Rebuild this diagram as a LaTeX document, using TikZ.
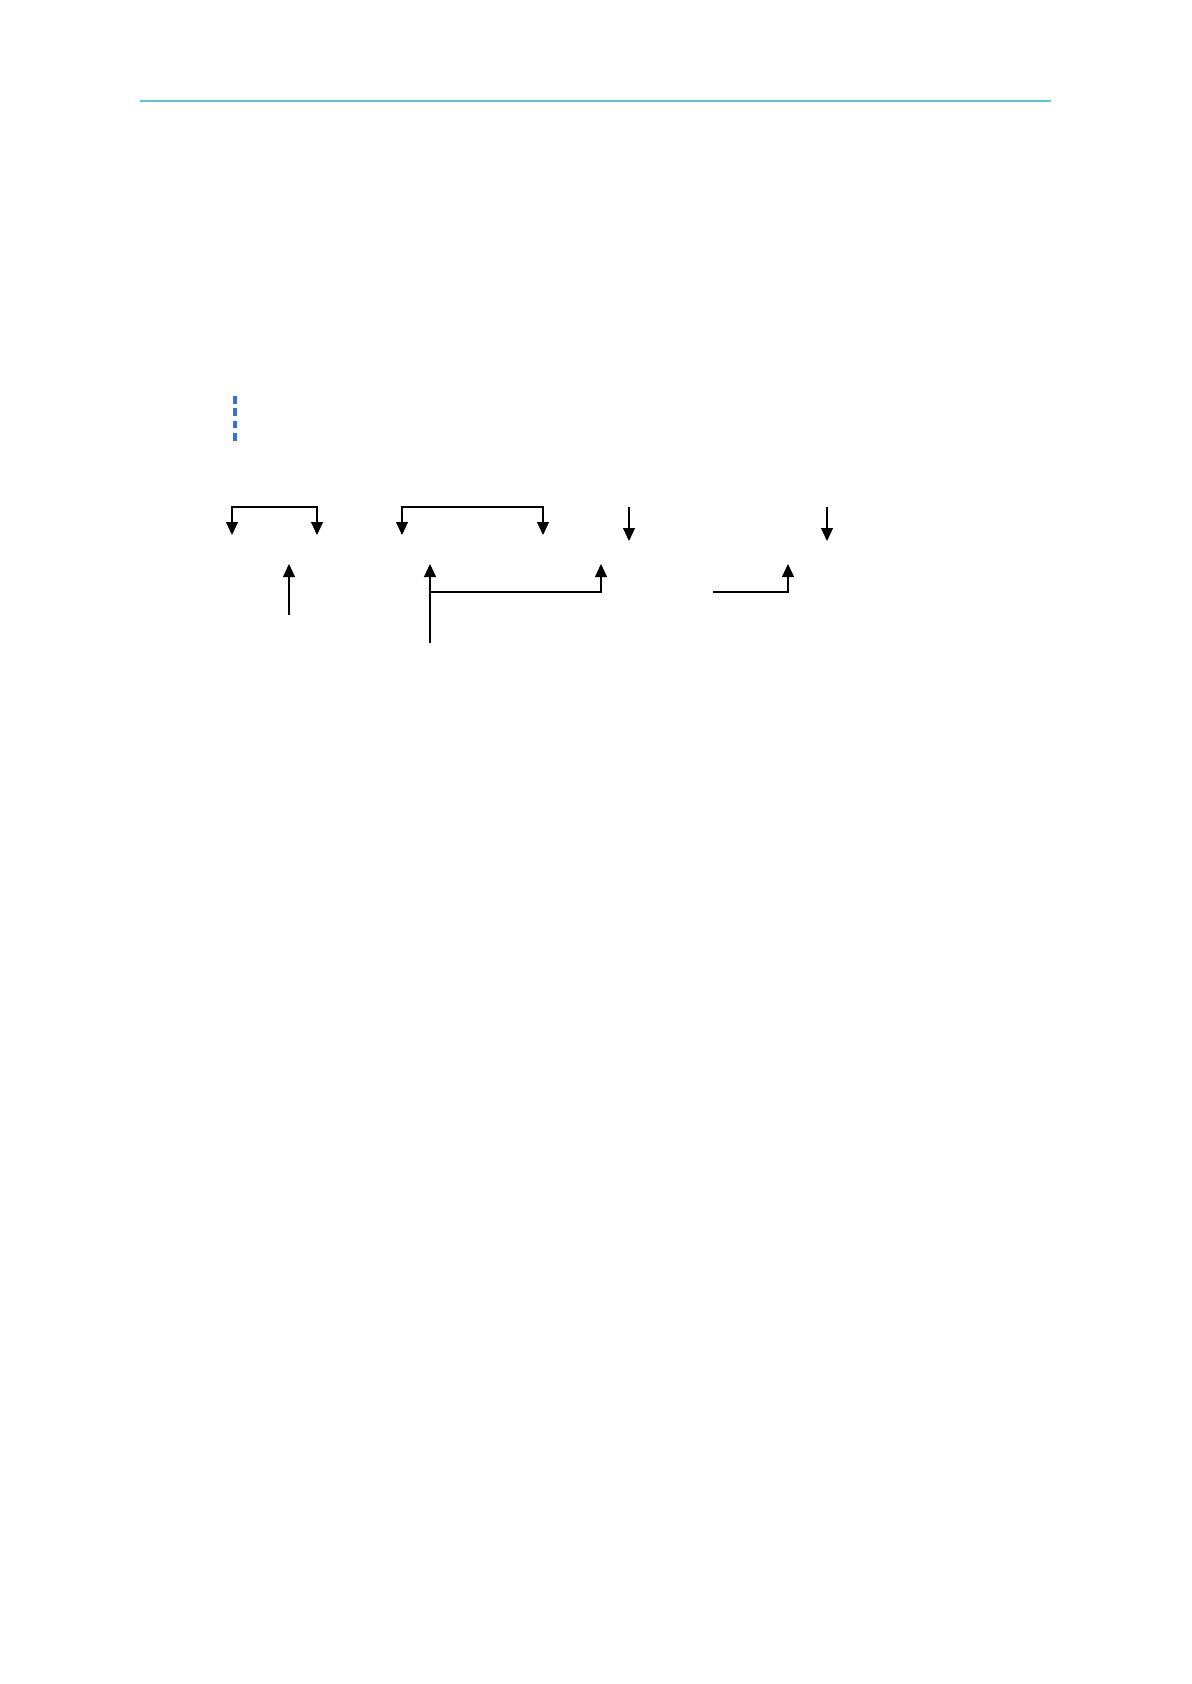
\documentclass[tikz,border=0pt]{standalone}
\usepackage{tikz}
\usetikzlibrary{arrows.meta}
\definecolor{headcyan}{HTML}{5BC8D0}
\definecolor{markblue}{HTML}{3A6FD8}
\tikzset{line/.style={draw, line width=0.55pt, -{Triangle[length=6.5pt,width=6pt]}}}
\tikzset{bline/.style={draw, line width=0.55pt, {Triangle[length=6.5pt,width=6pt]}-{Triangle[length=6.5pt,width=6pt]}}}
\tikzset{rule/.style={draw=headcyan, line width=0.6pt}}
\tikzset{bluemark/.style={draw=markblue, line width=2.2pt, dash pattern=on 3.8pt off 2.4pt}}

\begin{document}
\begin{tikzpicture}[x=0.5pt,y=-0.5pt]
			\useasboundingbox (0,0) rectangle (1191,1684);
			\coordinate (hl) at (140,101);
			\coordinate (hr) at (1051,101);
			\coordinate (ma) at (235,396);
			\coordinate (mb) at (235,444);
			%
			\coordinate (a1) at (232,535);
			\coordinate (a2) at (317,535);
			\coordinate (b1) at (402,535);
			\coordinate (b2) at (543,535);
			\coordinate (c1) at (629,541);
			\coordinate (c0) at (629,507);
			\coordinate (d1) at (827,541);
			\coordinate (d0) at (827,507);
			\coordinate (top) at (0,507);
			%
			\coordinate (u1) at (289,564);
			\coordinate (u1s) at (289,615);
			\coordinate (u2) at (430,564);
			\coordinate (u2s) at (430,643);
			\coordinate (u2b) at (430,592);
			\coordinate (u3) at (601,564);
			\coordinate (u4) at (788,564);
			\coordinate (u4s) at (713,592);
			%
			\path [rule] (hl) -- (hr);
			\path [bluemark] (ma) -- (mb);
			\path [bline] (a1) |- (top -| a1) -- (top -| a2) -- (a2);
			\path [bline] (b1) |- (top -| b1) -- (top -| b2) -- (b2);
			\path [line] (c0) -- (c1);
			\path [line] (d0) -- (d1);
			\path [line] (u1s) -- (u1);
			\path [line] (u2s) -- (u2);
			\path [line] (u2b) -| (u3);
			\path [line] (u4s) -| (u4);
			\end{tikzpicture}
\end{document}
